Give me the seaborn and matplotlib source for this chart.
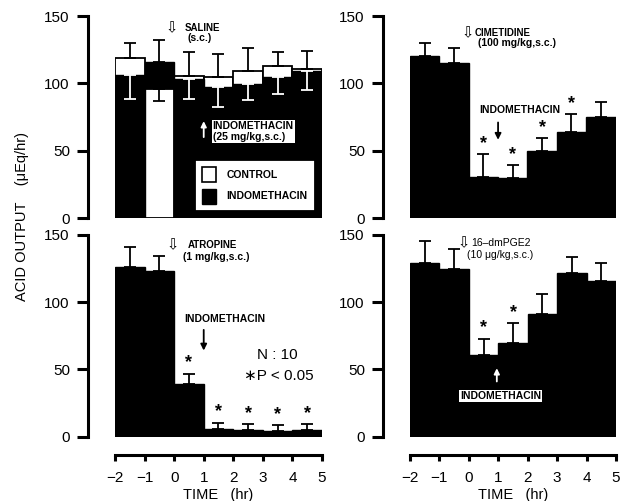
import numpy as np
import matplotlib
matplotlib.use("Agg")
import matplotlib.pyplot as plt
import seaborn as sns
from matplotlib.patches import Patch

sns.set_style("ticks")
plt.rcParams['font.family'] = ['Liberation Sans', 'DejaVu Sans']
for k in ['text.color', 'axes.labelcolor', 'xtick.color', 'ytick.color', 'axes.edgecolor']:
    plt.rcParams[k] = 'black'

# ---------------- data ----------------
time_centers = [-1.5, -0.5, 0.5, 1.5, 2.5, 3.5, 4.5]
x_ticks = [-2, -1, 0, 1, 2, 3, 4, 5]
x_tick_labels = ["\u22122", "\u22121", "0", "1", "2", "3", "4", "5"]
y_ticks = [0, 50, 100, 150]

saline_control = [119, 96, 105.5, 105, 109.5, 113, 111]
saline_control_err = [11, 9, 17.5, 16.5, 17, 10.5, 13]
saline_indo = [106, 116, 103.5, 97, 99.5, 104.5, 109]
saline_indo_err = [18, 16, 15.5, 14.5, 12, 12.5, 14]

cimetidine = [120, 115, 30.5, 29.5, 49.5, 64, 75]
cimetidine_err = [10, 11, 17, 9.5, 10, 13, 11.5]
cimetidine_sig = [False, False, True, True, True, True, False]

atropine = [126.5, 123, 39, 5.5, 5, 4, 5]
atropine_err = [14.5, 11.5, 8, 5, 4.5, 4.5, 4.5]
atropine_sig = [False, False, True, True, True, True, True]

pge = [129, 125, 61, 69.5, 91.5, 122, 116]
pge_err = [16.5, 14.5, 12, 15, 14.5, 12, 13.5]
pge_sig = [False, False, True, True, False, False, False]

W, H = 623, 501
fig = plt.figure(figsize=(W / 100, H / 100), dpi=100)

def px_axes(left, right, top, bottom):
    return fig.add_axes([left / W, 1 - bottom / H, (right - left) / W, (bottom - top) / H])

ax_tl = px_axes(115, 322, 16, 218)
ax_tr = px_axes(410, 615.5, 16, 218)
ax_bl = px_axes(115, 322, 235, 436.7)
ax_br = px_axes(410, 616, 235, 436.7)

SPW = 2.2

def style(ax, bottom_axis):
    ax.set_xlim(-2, 5)
    ax.set_ylim(0, 150)
    for s in ['top', 'right']:
        ax.spines[s].set_visible(False)
    ax.spines['left'].set_position(('outward', 19.5))
    ax.spines['left'].set_bounds(0, 150)
    ax.spines['left'].set_linewidth(SPW)
    ax.set_yticks(y_ticks)
    ax.set_yticklabels([str(v) for v in y_ticks])
    ax.tick_params(axis='y', length=8, width=SPW, pad=5, labelsize=11)
    ax.set_ylabel("")
    ax.set_xlabel("")
    if bottom_axis:
        ax.spines['bottom'].set_position(('outward', 13.5))
        ax.spines['bottom'].set_bounds(-2, 5)
        ax.spines['bottom'].set_linewidth(SPW)
        ax.set_xticks(x_ticks)
        ax.set_xticklabels(x_tick_labels)
        ax.tick_params(axis='x', length=4.5, width=SPW, pad=6.5, labelsize=11)
        ax.set_xlabel("TIME   (hr)", fontsize=10.5, labelpad=2)
    else:
        ax.spines['bottom'].set_visible(False)
        ax.set_xticks([])
    ax.patch.set_alpha(0)

def simple_panel(ax, vals, errs, sig):
    sns.barplot(x=time_centers, y=vals, native_scale=True, width=1, color='black',
                edgecolor='black', linewidth=1, saturation=1, errorbar=None, ax=ax)
    ax.errorbar(time_centers, vals, yerr=[np.zeros(len(vals)), errs], fmt='none',
                ecolor='black', elinewidth=1.3, capsize=4.5, capthick=1.3, zorder=4)
    for xc, v, e, s in zip(time_centers, vals, errs, sig):
        if s:
            ax.text(xc, v + e + 1.5, "*", ha='center', va='bottom', fontsize=13,
                    fontweight='bold', zorder=5)

ARROW_FS = 10.5

# ---------- top-left: saline ----------
ax = ax_tl
sns.barplot(x=time_centers, y=saline_control, native_scale=True, width=1, color='white',
            edgecolor='black', linewidth=1.3, saturation=1, errorbar=None, ax=ax)
sns.barplot(x=time_centers, y=saline_indo, native_scale=True, width=1, color='black',
            edgecolor='black', linewidth=1, saturation=1, errorbar=None, ax=ax)
ctrl_bars = ax.containers[0]
indo_bars = ax.containers[1]
c_arr = np.array(saline_control)
i_arr = np.array(saline_indo)
c_err = np.array(saline_control_err)
i_err = np.array(saline_indo_err)
xs = np.array(time_centers)
ctrl_top = c_arr > i_arr
for k in range(len(xs)):
    if ctrl_top[k]:
        ctrl_bars[k].set_zorder(2)
        indo_bars[k].set_zorder(3)
    else:
        ctrl_bars[k].set_zorder(3)
        indo_bars[k].set_zorder(2)
z = np.zeros(len(xs))
m = ctrl_top
ax.errorbar(xs[m], c_arr[m], yerr=[z[m], c_err[m]], fmt='none', ecolor='black',
            elinewidth=1.3, capsize=4.5, capthick=1.3, zorder=4)
ax.errorbar(xs[~m], i_arr[~m], yerr=[z[~m], i_err[~m]], fmt='none', ecolor='black',
            elinewidth=1.3, capsize=4.5, capthick=1.3, zorder=4)
ax.errorbar(xs[m], i_arr[m], yerr=[i_err[m], z[m]], fmt='none', ecolor='white',
            elinewidth=1.3, capsize=4.5, capthick=1.3, zorder=4)
ax.errorbar(xs[~m], c_arr[~m], yerr=[c_err[~m], z[~m]], fmt='none', ecolor='black',
            elinewidth=1.3, capsize=4.5, capthick=1.3, zorder=4)

ax.text(-0.07, 141, "\u21e9", ha='center', va='center', fontsize=ARROW_FS, family=['DejaVu Sans'])
ax.text(0.36, 141, "SALINE", ha='left', va='center', fontsize=7, fontweight='bold')
ax.text(0.87, 133.3, "(s.c.)", ha='center', va='center', fontsize=7.5, fontweight='bold')
ax.annotate("", xy=(1.0, 74), xytext=(1.0, 58),
            arrowprops=dict(arrowstyle='-|>', color='white', lw=1.3, mutation_scale=8), zorder=6)
ax.text(1.3, 64.5, "INDOMETHACIN\n(25 mg/kg,s.c.)", ha='left', va='center', fontsize=7.5,
        fontweight='bold', linespacing=1.15, zorder=6,
        bbox=dict(facecolor='white', edgecolor='none', pad=0.6))
handles = [Patch(facecolor='white', edgecolor='black', linewidth=1.2, label='CONTROL'),
           Patch(facecolor='black', edgecolor='black', label='INDOMETHACIN')]
leg = ax.legend(handles=handles, loc='upper left', bbox_to_anchor=(0.386, 0.287, 0.58, 0.0),
                mode='expand', frameon=True, fancybox=False, edgecolor='black',
                framealpha=1, handlelength=1.35, handleheight=1.84, labelspacing=0.6,
                borderpad=0.7, handletextpad=1.0, borderaxespad=0,
                prop=dict(weight='bold', size=7.5))
leg.get_frame().set_linewidth(1.3)
leg.set_zorder(7)
style(ax, False)

# ---------- top-right: cimetidine ----------
ax = ax_tr
simple_panel(ax, cimetidine, cimetidine_err, cimetidine_sig)
ax.text(-0.05, 137.6, "\u21e9", ha='center', va='center', fontsize=ARROW_FS, family=['DejaVu Sans'])
ax.text(0.2, 137.6, "CIMETIDINE", ha='left', va='center', fontsize=7, fontweight='bold')
ax.text(0.32, 129.7, "(100 mg/kg,s.c.)", ha='left', va='center', fontsize=7.5, fontweight='bold')
ax.text(1.75, 80, "INDOMETHACIN", ha='center', va='center', fontsize=7.5, fontweight='bold')
ax.annotate("", xy=(1.0, 56), xytext=(1.0, 73),
            arrowprops=dict(arrowstyle='-|>', color='black', lw=1.3, mutation_scale=9))
style(ax, False)

# ---------- bottom-left: atropine ----------
ax = ax_bl
simple_panel(ax, atropine, atropine_err, atropine_sig)
ax.text(-0.04, 142.5, "\u21e9", ha='center', va='center', fontsize=ARROW_FS, family=['DejaVu Sans'])
ax.text(0.47, 142.5, "ATROPINE", ha='left', va='center', fontsize=7, fontweight='bold')
ax.text(0.29, 133.8, "(1 mg/kg,s.c.)", ha='left', va='center', fontsize=7.5, fontweight='bold')
ax.text(1.72, 87.5, "INDOMETHACIN", ha='center', va='center', fontsize=7.5, fontweight='bold')
ax.annotate("", xy=(1.0, 62), xytext=(1.0, 81.5),
            arrowprops=dict(arrowstyle='-|>', color='black', lw=1.3, mutation_scale=9))
ax.text(3.48, 60.5, "N : 10", ha='center', va='center', fontsize=11)
ax.text(3.55, 45.5, "\u2217P < 0.05", ha='center', va='center', fontsize=11)
style(ax, True)

# ---------- bottom-right: 16-dmPGE2 ----------
ax = ax_br
simple_panel(ax, pge, pge_err, pge_sig)
ax.text(-0.16, 144, "\u21e9", ha='center', va='center', fontsize=ARROW_FS, family=['DejaVu Sans'])
ax.text(0.07, 144, "16\u2013dmPGE2", ha='left', va='center', fontsize=7.5)
ax.text(-0.05, 135, "(10 \u03bcg/kg,s.c.)", ha='left', va='center', fontsize=7.5)
ax.annotate("", xy=(0.95, 53), xytext=(0.95, 39),
            arrowprops=dict(arrowstyle='-|>', color='white', lw=1.3, mutation_scale=8))
ax.text(1.07, 30.5, "INDOMETHACIN", ha='center', va='center', fontsize=7.5, fontweight='bold',
        bbox=dict(facecolor='white', edgecolor='none', pad=0.8))
style(ax, True)

fig.text(22.5 / W, 1 - 216.5 / H, "ACID OUTPUT    (\u03bcEq/hr)", rotation=90, ha='center',
         va='center', fontsize=10.5)

fig.savefig("out.png", dpi=100)
